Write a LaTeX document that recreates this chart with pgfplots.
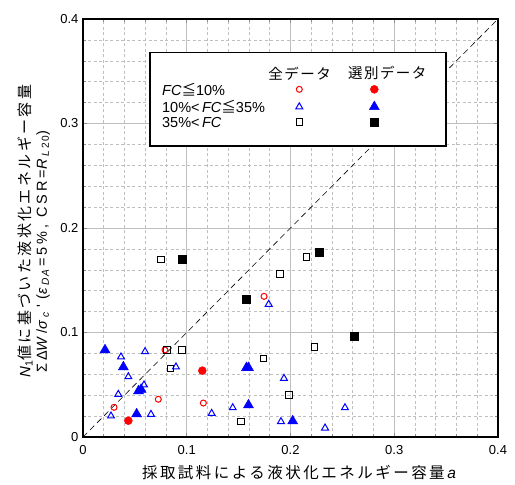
\documentclass[border=0pt]{standalone}
\usepackage{fontspec}
\usepackage{pgfplots}
\pgfplotsset{compat=1.18}
\setmainfont{Liberation Sans}
\newfontfamily\spaced[LetterSpace=20]{Liberation Sans}
\newfontfamily\jp[LetterSpace=16]{Noto Sans CJK JP}
\newfontfamily\jph[LetterSpace=10]{Noto Sans CJK JP}
\newfontfamily\jpsym{Noto Sans CJK JP}

\begin{document}
\begin{tikzpicture}
\useasboundingbox (-83pt,-48pt) rectangle (432pt,437pt);
\begin{axis}[
  scale only axis, width=415pt, height=418pt,
  xmin=0, xmax=0.4, ymin=0, ymax=0.4,
  xtick={0,0.1,0.2,0.3,0.4}, xticklabels={0,0.1,0.2,0.3,0.4},
  ytick={0,0.1,0.2,0.3,0.4}, yticklabels={0,0.1,0.2,0.3,0.4},
  minor tick num=4,
  grid=both,
  major grid style={draw=black!25, line width=0.7pt},
  minor grid style={draw=black!25, dash pattern=on 3pt off 2.5pt, line width=0.5pt},
  axis line style={line width=1.6pt},
  tick align=inside,
  major tick length=4pt, minor tick length=3pt,
  tick style={black!45, line width=0.5pt},
  ticklabel style={font=\fontsize{13}{15}\selectfont},
  /pgf/number format/assume math mode=true,
  xticklabel style={yshift=-5pt},
  yticklabel style={xshift=-1pt},
]
% 1:1 reference line
\addplot[black, dash pattern=on 6pt off 4pt, line width=0.6pt] coordinates {(0,0) (0.4,0.4)};

% all data, FC <= 10%
\addplot[only marks, mark=o, draw=red, mark size=3pt, line width=1pt] coordinates {
 (0.0790,0.0833) (0.1745,0.1346) (0.0726,0.0361) (0.0299,0.0284) (0.1160,0.0325)};
% all data, 10% < FC <= 35%
\addplot[only marks, mark=triangle, draw=blue, mark size=4pt, line width=1pt] coordinates {
 (0.0598,0.0817) (0.0366,0.0766) (0.0437,0.0577) (0.0588,0.0498) (0.0340,0.0408)
 (0.0270,0.0201) (0.0655,0.0217) (0.0896,0.0670) (0.1937,0.0561) (0.1240,0.0226)
 (0.1443,0.0280) (0.1908,0.0147) (0.1790,0.1270) (0.2525,0.0280) (0.2333,0.0086)};
% all data, 35% < FC
\addplot[only marks, mark=square, draw=black, mark size=3.3pt, line width=1pt] coordinates {
 (0.0752,0.1700) (0.1900,0.1560) (0.0807,0.0833) (0.0957,0.0833) (0.0845,0.0657)
 (0.1738,0.0753) (0.1986,0.0402) (0.1523,0.0147) (0.2156,0.1725) (0.2230,0.0861)};

% selected data
\addplot[only marks, mark=*, draw=red, fill=red, mark size=4pt] coordinates {
 (0.1150,0.0635) (0.0437,0.0156)};
\addplot[only marks, mark=triangle*, draw=blue, fill=blue, mark size=5.8pt] coordinates {
 (0.0212,0.0833) (0.0389,0.0670) (0.0535,0.0440) (0.0560,0.0455) (0.0517,0.0220)
 (0.1576,0.0663) (0.1595,0.0663) (0.1595,0.0306) (0.2021,0.0153)};
\addplot[only marks, mark=square*, draw=black, fill=black, mark size=4pt] coordinates {
 (0.0957,0.1700) (0.1570,0.1320) (0.2278,0.1773) (0.2612,0.0960)};

% legend box
\draw[line width=1.6pt, fill=white] (axis cs:0.0646,0.2785) rectangle (axis cs:0.350,0.3678);
\node[anchor=center, font=\fontsize{14.5}{16}\selectfont\jph] at (axis cs:0.2088,0.348) {全データ};
\node[anchor=center, font=\fontsize{14.5}{16}\selectfont\jph] at (axis cs:0.2933,0.348) {選別データ};
\node[anchor=west, font=\fontsize{14.5}{16}\selectfont, inner sep=0pt] at (axis cs:0.0761,0.3327) {\textit{FC}{\jpsym ≦}10\%};
\node[anchor=west, font=\fontsize{14.5}{16}\selectfont, inner sep=0pt] at (axis cs:0.0761,0.3160) {10\%<\,\textit{FC}{\jpsym ≦}35\%};
\node[anchor=west, font=\fontsize{14.5}{16}\selectfont, inner sep=0pt] at (axis cs:0.0761,0.3012) {35\%<\,\textit{FC}};
\addplot[only marks, mark=o, draw=red, mark size=3pt, line width=1pt] coordinates {(0.2085,0.3327)};
\addplot[only marks, mark=triangle, draw=blue, mark size=4pt, line width=1pt] coordinates {(0.2085,0.3160)};
\addplot[only marks, mark=square, draw=black, mark size=3.3pt, line width=1pt] coordinates {(0.2085,0.3012)};
\addplot[only marks, mark=*, draw=red, fill=red, mark size=4pt] coordinates {(0.2808,0.3327)};
\addplot[only marks, mark=triangle*, draw=blue, fill=blue, mark size=5.8pt] coordinates {(0.2808,0.3160)};
\addplot[only marks, mark=square*, draw=black, fill=black, mark size=4pt] coordinates {(0.2808,0.3012)};
\end{axis}

% axis titles
\node[font=\fontsize{15.5}{17}\selectfont] at (216pt,-36pt) {{\jp 採取試料による液状化エネルギー容量}\,\textit{a}};
\node[rotate=90, anchor=west, font=\fontsize{15}{17}\selectfont, inner sep=0pt] at (-58pt,59pt)
  {\textit{N}\textsubscript{1}{\jp 値に基づいた液状化エネルギー容量}};
\node[rotate=90, anchor=west, font=\fontsize{14.5}{16}\selectfont\spaced, inner sep=0pt] at (-40pt,64pt)
  {ΣΔ\textit{W}/\textit{σ}\textsubscript{\textit{c}}\,'\,\,(\textit{ε}\textsubscript{\textit{DA}}=5\%, CSR=\textit{R}\textsubscript{\textit{L}20})};
\end{tikzpicture}
\end{document}
